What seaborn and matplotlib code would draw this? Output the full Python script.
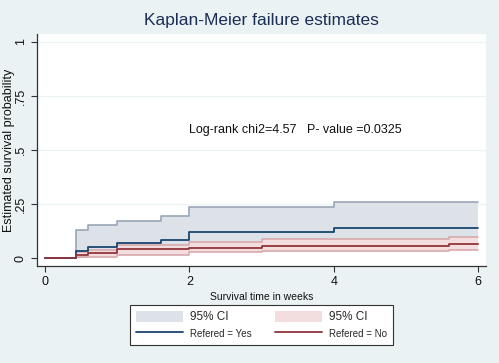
import matplotlib
matplotlib.use("Agg")
import matplotlib.pyplot as plt
import seaborn as sns
import pandas as pd
import numpy as np

# ---- data ----
times_yes = [0, 0.43, 0.6, 1.0, 1.6, 2.0, 4.0, 6.0]
surv_yes = [0, 0.032, 0.05, 0.071, 0.085, 0.12, 0.138, 0.138]
lo_yes = [0, 0.005, 0.012, 0.025, 0.035, 0.055, 0.065, 0.065]
hi_yes = [0, 0.13, 0.151, 0.171, 0.194, 0.238, 0.258, 0.258]

times_no = [0, 0.43, 0.6, 1.0, 2.0, 3.0, 5.6, 6.0]
surv_no = [0, 0.012, 0.022, 0.04, 0.046, 0.055, 0.063, 0.063]
lo_no = [0, 0.003, 0.006, 0.012, 0.026, 0.033, 0.036, 0.036]
hi_no = [0, 0.028, 0.037, 0.06, 0.075, 0.09, 0.097, 0.097]

xticks = [0, 2, 4, 6]
yticks = [0, 0.25, 0.5, 0.75, 1]
ytick_labels = ["0", ".25", ".5", ".75", "1"]

title = "Kaplan-Meier failure estimates"
note = "Log-rank chi2=4.57   P- value =0.0325"

# ---- style ----
sns.set_theme(style="white")
plt.rcParams["font.family"] = ["Liberation Sans", "DejaVu Sans"]

BG = "#EAF2F3"
BLUE = "#1A476F"
GRAY_FILL = "#DDE1E8"
GRAY_EDGE = "#9AA7B7"
RED = "#90353B"
PINK_FILL = "#F3DEDF"
PINK_EDGE = "#D8AAAD"

fig = plt.figure(figsize=(4.99, 3.63), dpi=100, facecolor=BG)
ax = fig.add_axes([36.7 / 499, 1 - 266 / 363, (486 - 36.7) / 499, (266 - 34) / 363])
ax.set_facecolor("white")

df_yes = pd.DataFrame({"t": times_yes, "s": surv_yes, "lo": lo_yes, "hi": hi_yes})
df_no = pd.DataFrame({"t": times_no, "s": surv_no, "lo": lo_no, "hi": hi_no})

# grid
for y in yticks[1:]:
    ax.axhline(y, color=BG, lw=0.9, zorder=0)

# CI bands
f1 = ax.fill_between(df_yes["t"], df_yes["lo"], df_yes["hi"], step="post",
                     color=GRAY_FILL, lw=0, label="95% CI", zorder=1)
sns.lineplot(data=df_yes, x="t", y="hi", drawstyle="steps-post", estimator=None,
             color=GRAY_EDGE, lw=1.2, ax=ax, zorder=1.1)
sns.lineplot(data=df_yes, x="t", y="lo", drawstyle="steps-post", estimator=None,
             color=GRAY_EDGE, lw=1.2, ax=ax, zorder=1.1)

f2 = ax.fill_between(df_no["t"], df_no["lo"], df_no["hi"], step="post",
                     color=PINK_FILL, lw=0, label="95% CI", zorder=2)
sns.lineplot(data=df_no, x="t", y="hi", drawstyle="steps-post", estimator=None,
             color=PINK_EDGE, lw=1.2, ax=ax, zorder=2.1)
sns.lineplot(data=df_no, x="t", y="lo", drawstyle="steps-post", estimator=None,
             color=PINK_EDGE, lw=1.2, ax=ax, zorder=2.1)

# survival (failure) lines
sns.lineplot(data=df_yes, x="t", y="s", drawstyle="steps-post", estimator=None,
             color=BLUE, lw=1.3, ax=ax, zorder=3, label="Refered = Yes")
sns.lineplot(data=df_no, x="t", y="s", drawstyle="steps-post", estimator=None,
             color=RED, lw=1.3, ax=ax, zorder=3, label="Refered = No")
if ax.get_legend() is not None:
    ax.get_legend().remove()

lines = {l.get_label(): l for l in ax.get_lines()}
h_yes = lines["Refered = Yes"]
h_no = lines["Refered = No"]

ax.set_xlim(-0.115, 6.108)
ax.set_ylim(-0.037, 1.037)
ax.set_xticks(xticks)
ax.set_xticklabels([str(x) for x in xticks], fontsize=9)
ax.set_yticks(yticks)
ax.set_yticklabels(ytick_labels, fontsize=9, rotation=90, va="center")
ax.tick_params(axis="both", direction="out", length=4, width=0.8, color="#333333",
               labelcolor="#111111", pad=3, left=True, bottom=True)

for side in ["top", "right"]:
    ax.spines[side].set_visible(False)
for side in ["left", "bottom"]:
    ax.spines[side].set_color("#333333")
    ax.spines[side].set_linewidth(0.9)

ax.set_xlabel("Survival time in weeks", fontsize=7.5, color="#111111", labelpad=3)
ax.set_ylabel("Estimated survival probability", fontsize=9, color="#111111")
ax.yaxis.set_label_coords((15.5 - 36.7) / 449.3, 0.5)

ax.text(3.46, 0.593, note, ha="center", va="center", fontsize=9, color="#111111")

fig.text(261 / 499, 1 - 20 / 363, title, ha="center", va="center", fontsize=12.5, color="#1C2E56")

leg = fig.legend(handles=[f1, h_yes, f2, h_no],
                 labels=["95% CI", "Refered = Yes", "95% CI", "Refered = No"],
                 ncol=2, loc="center", bbox_to_anchor=(261.5 / 499, 1 - 325 / 363),
                 frameon=True, fancybox=False, framealpha=1, edgecolor="#333333",
                 handlelength=4, handleheight=1.1, handletextpad=0.6, columnspacing=2.0,
                 borderpad=0.45, labelspacing=0.35, fontsize=8.5)
leg.get_frame().set_linewidth(0.8)
texts = leg.get_texts()
texts[1].set_fontsize(7)
texts[3].set_fontsize(7)

fig.savefig("out.png", dpi=100, facecolor=BG)
